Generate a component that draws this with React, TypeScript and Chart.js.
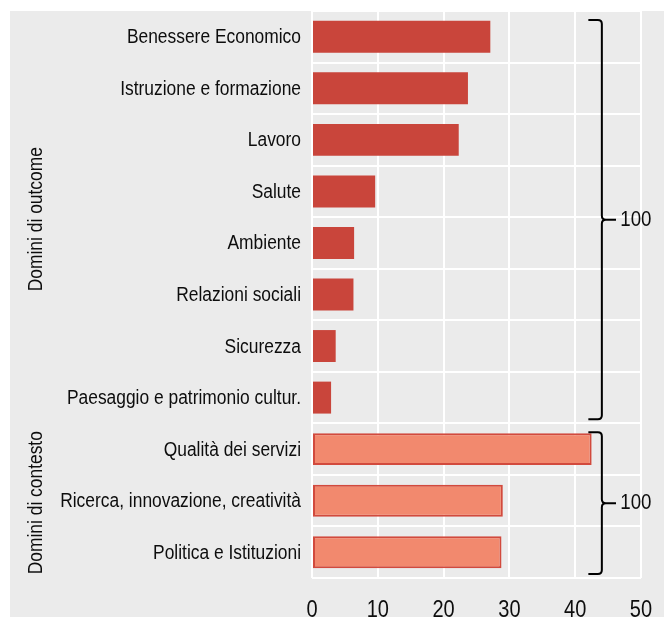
import React, { useEffect, useRef } from "react";
import { Chart, registerables } from "chart.js";

Chart.register(...registerables);

const categories = [
  "Benessere Economico",
  "Istruzione e formazione",
  "Lavoro",
  "Salute",
  "Ambiente",
  "Relazioni sociali",
  "Sicurezza",
  "Paesaggio e patrimonio cultur.",
  "Qualità dei servizi",
  "Ricerca, innovazione, creatività",
  "Politica e Istituzioni",
];

const values = [27.1, 23.7, 22.3, 9.6, 6.4, 6.3, 3.6, 2.9, 42.5, 29.0, 28.8];

const groupLabels = ["Domini di outcome", "Domini di contesto"];
const groupSizes = [8, 3];
const groupTotals = ["100", "100"];

const xTickValues = [0, 10, 20, 30, 40, 50];
const xTickLabels = ["0", "10", "20", "30", "40", "50"];

const FONT = "'Liberation Sans', Arial, sans-serif";
const NARROW = 0.87;
const TEXT = "#0d0d0d";
const RED = "#c9453b";
const SALMON = "#f2896e";
const SALMON_BORDER = "#d24a3d";

const W = 654;
const H = 606;

function narrowText(
  ctx: CanvasRenderingContext2D,
  text: string,
  x: number,
  y: number,
  size: number,
  align: CanvasTextAlign,
  baseline: CanvasTextBaseline,
  rotate = 0
) {
  ctx.save();
  ctx.font = `${size}px ${FONT}`;
  ctx.fillStyle = TEXT;
  ctx.textAlign = align;
  ctx.textBaseline = baseline;
  ctx.translate(x, y);
  if (rotate) ctx.rotate(rotate);
  ctx.scale(NARROW, 1);
  ctx.fillText(text, 0, 0);
  ctx.restore();
}

const labelsPlugin = {
  id: "labelsBracesGroups",
  afterDraw(chart: any) {
    const ctx = chart.ctx as CanvasRenderingContext2D;
    const xs = chart.scales.x;
    const ys = chart.scales.y;
    const area = chart.chartArea;

    // category labels
    categories.forEach((c, i) => {
      narrowText(ctx, c, area.left - 11, ys.getPixelForValue(i) + 1, 20, "right", "middle");
    });

    // x tick labels
    xTickValues.forEach((v, i) => {
      narrowText(ctx, xTickLabels[i], xs.getPixelForValue(v), area.bottom + 39, 23, "center", "alphabetic");
    });

    const n = categories.length;
    const step = (area.bottom - area.top) / n;
    let start = 0;
    groupSizes.forEach((size, g) => {
      const top = ys.getPixelForValue(start) - step / 2;
      const bottom = ys.getPixelForValue(start + size - 1) + step / 2;

      // group label (rotated)
      narrowText(ctx, groupLabels[g], 31.5, (top + bottom) / 2 + 2, 20, "center", "alphabetic", -Math.PI / 2);

      // brace
      const bt = top + 9;
      const bb = bottom - 4;
      const mid = (bt + bb) / 2;
      const xv = xs.getPixelForValue(44.05);
      const xt = xs.getPixelForValue(42.0);
      const xc = xs.getPixelForValue(46.2);
      const r = 4;
      ctx.save();
      ctx.strokeStyle = "#000000";
      ctx.lineWidth = 2;
      ctx.lineJoin = "round";
      ctx.beginPath();
      ctx.moveTo(xt, bt);
      ctx.lineTo(xv - r, bt);
      ctx.quadraticCurveTo(xv, bt, xv, bt + r);
      ctx.lineTo(xv, mid - r);
      ctx.quadraticCurveTo(xv, mid, xv + r, mid);
      ctx.lineTo(xc, mid);
      ctx.moveTo(xv + r, mid);
      ctx.quadraticCurveTo(xv, mid, xv, mid + r);
      ctx.lineTo(xv, bb - r);
      ctx.quadraticCurveTo(xv, bb, xv - r, bb);
      ctx.lineTo(xt, bb);
      ctx.stroke();
      ctx.restore();

      narrowText(ctx, groupTotals[g], xs.getPixelForValue(46.85), mid, 21.5, "left", "middle");

      start += size;
    });
  },
};

export default function App() {
  const ref = useRef<HTMLCanvasElement | null>(null);

  useEffect(() => {
    if (!ref.current) return;
    const bg: string[] = [];
    const bc: string[] = [];
    const bw: number[] = [];
    groupSizes.forEach((size, g) => {
      for (let i = 0; i < size; i++) {
        bg.push(g === 0 ? RED : SALMON);
        bc.push(g === 0 ? RED : SALMON_BORDER);
        bw.push(g === 0 ? 0 : 2);
      }
    });

    const chart = new Chart(ref.current, {
      type: "bar",
      data: {
        labels: categories,
        datasets: [
          {
            data: values,
            backgroundColor: bg,
            borderColor: bc,
            borderWidth: bw,
            borderSkipped: false,
            barPercentage: 0.62,
            categoryPercentage: 1,
          },
        ],
      },
      options: {
        indexAxis: "y",
        animation: false,
        responsive: false,
        maintainAspectRatio: false,
        layout: { padding: { left: 0, top: 0, right: 23, bottom: 0 } },
        plugins: {
          legend: { display: false },
          tooltip: { enabled: false },
          title: { display: false },
        },
        scales: {
          x: {
            type: "linear",
            min: 0,
            max: 50,
            afterBuildTicks: (scale: any) => {
              scale.ticks = xTickValues.map((v) => ({ value: v }));
            },
            afterFit: (scale: any) => {
              scale.height = 39;
              scale.paddingLeft = 0;
              scale.paddingRight = 0;
              scale.paddingTop = 0;
              scale.paddingBottom = 0;
            },
            grid: { color: "#ffffff", lineWidth: 2, drawTicks: false },
            border: { display: false },
            ticks: { display: false },
          },
          y: {
            type: "category",
            afterFit: (scale: any) => {
              scale.width = 302;
              scale.paddingLeft = 0;
              scale.paddingRight = 0;
              scale.paddingTop = 0;
              scale.paddingBottom = 0;
            },
            grid: { color: "#ffffff", lineWidth: 2, drawTicks: false, offset: true },
            border: { display: false },
            ticks: { display: false, autoSkip: false },
          },
        },
      },
      plugins: [labelsPlugin],
    } as any);

    return () => chart.destroy();
  }, []);

  return (
    <div
      style={{
        position: "absolute",
        left: 10,
        top: 11,
        width: W,
        height: H,
        background: "#ebebeb",
      }}
    >
      <canvas ref={ref} width={W} height={H} style={{ display: "block" }} />
    </div>
  );
}
